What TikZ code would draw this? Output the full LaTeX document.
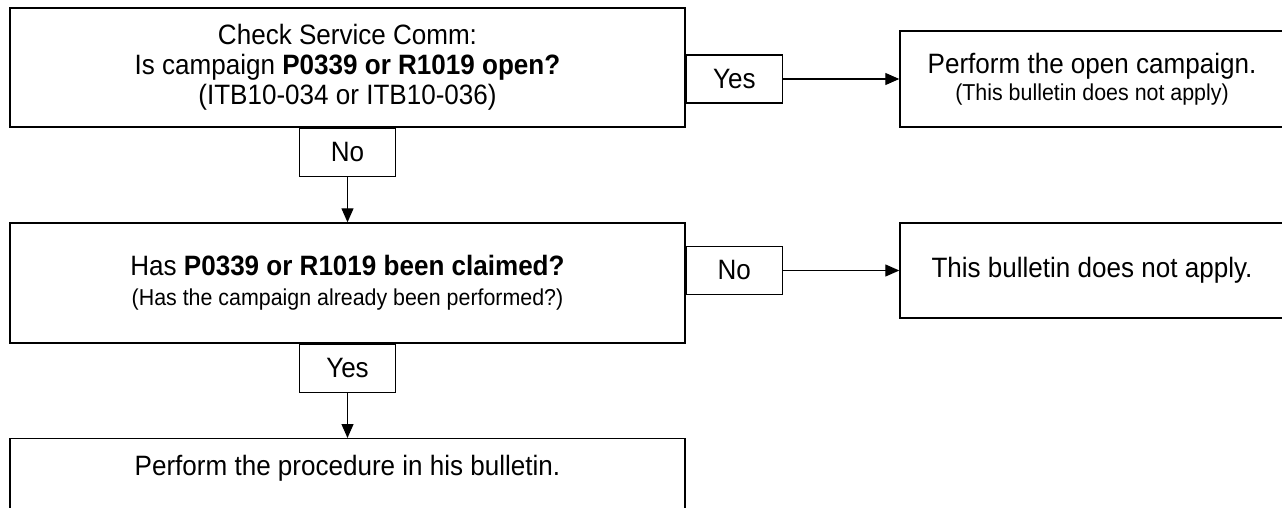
\documentclass[tikz,border=0pt]{standalone}
\usepackage{fontspec}
\setmainfont{Liberation Sans}[FakeStretch=0.93]
\usetikzlibrary{arrows.meta}

\begin{document}
\begin{tikzpicture}[x=1pt,y=-1pt]
\tikzset{box/.style={draw,line width=1.4pt,inner sep=0pt,align=center,font=\fontsize{28}{30}\selectfont}}
\tikzset{answer/.style={draw,fill=white,line width=1.2pt,minimum width=96pt,minimum height=48pt,inner sep=0pt,font=\fontsize{28}{30}\selectfont}}
\tikzset{flow/.style={line width=1.2pt,-{Triangle[length=14pt,width=12pt]}}}
\newcommand{\smalltext}{\fontsize{23}{27}\selectfont}

\useasboundingbox (0,0) rectangle (1282,508);

% left column
\node[box,minimum width=675pt,minimum height=119pt] (open) at (347.5,67.5)
  {Check Service Comm:\\ Is campaign \textbf{P0339 or R1019 open?}\\ (ITB10-034 or ITB10-036)};
\node[box,minimum width=675pt,minimum height=120pt] (claimed) at (347.5,283)
  {Has \textbf{P0339 or R1019 been claimed?}\\ {\smalltext (Has the campaign already been performed?)}};
\node[box,minimum width=675pt,anchor=north,text height=37pt,text depth=60pt] (procedure) at (347.5,438)
  {Perform the procedure in his bulletin.};

% right column
\node[box,minimum width=384pt,minimum height=96pt] (campaign) at (1092,79)
  {Perform the open campaign.\\[-3pt] {\smalltext (This bulletin does not apply)}};
\node[box,minimum width=384pt,minimum height=95pt] (noapply) at (1092,270.5)
  {This bulletin does not apply.};

% answers
\node[answer,anchor=north] (no1) at (open.south) {No};
\node[answer,anchor=west] (yes1) at (open.east |- campaign) {Yes};
\node[answer,anchor=north] (yes2) at (claimed.south) {Yes};
\node[answer,anchor=west] (no2) at (claimed.east |- noapply) {No};

\draw[flow] (no1) -- (claimed);
\draw[flow] (yes2) -- (procedure);
\draw[flow] (yes1) -- (campaign);
\draw[flow] (no2) -- (noapply);

\end{tikzpicture}
\end{document}
